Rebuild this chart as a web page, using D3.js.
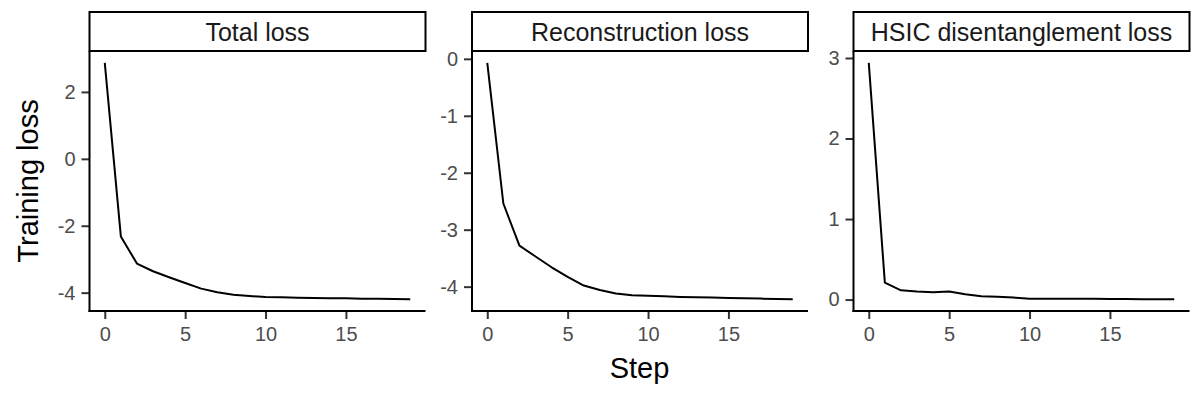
<!DOCTYPE html>
<html>
<head>
<meta charset="utf-8">
<script src="https://cdn.jsdelivr.net/npm/d3@7"></script>
<style>
  body { margin: 0; background: #fff; }
  svg text { font-family: "Liberation Sans", Arial, Helvetica, sans-serif; }
  .axis .tick line { stroke: #333; stroke-width: 2; }
  .axis text { fill: #4d4d4d; font-size: 20px; }
</style>
</head>
<body>
<div id="chart"></div>
<script>
// training curves
var steps = [0, 1, 2, 3, 4, 5, 6, 7, 8, 9, 10, 11, 12, 13, 14, 15, 16, 17, 18, 19];
var totalLoss = [2.87, -2.32, -3.13, -3.36, -3.54, -3.71, -3.88, -3.99, -4.06, -4.10,
                 -4.13, -4.14, -4.15, -4.16, -4.165, -4.17, -4.18, -4.185, -4.19, -4.195];
var reconLoss = [-0.07, -2.54, -3.28, -3.47, -3.66, -3.83, -3.98, -4.06, -4.12, -4.15,
                 -4.16, -4.17, -4.18, -4.185, -4.19, -4.20, -4.205, -4.21, -4.215, -4.22];
var hsicLoss = [2.94, 0.21, 0.115, 0.10, 0.09, 0.10, 0.065, 0.04, 0.035, 0.025,
                0.01, 0.01, 0.01, 0.01, 0.01, 0.008, 0.006, 0.005, 0.005, 0.005];

var panelTitles = ["Total loss", "Reconstruction loss", "HSIC disentanglement loss"];
var xTicks = [0, 5, 10, 15];
var yTicks = [[-4, -2, 0, 2], [-4, -3, -2, -1, 0], [0, 1, 2, 3]];

var panels = [totalLoss, reconLoss, hsicLoss].map(function (v, i) {
  return {title: panelTitles[i], values: v, ticks: yTicks[i]};
});

var _width = 1200, _height = 400;
var _panelLeft = [89.5, 472, 853.5],
    _panelWidth = 336,
    _stripTop = 12, _stripHeight = 39,
    _plotTop = 51, _plotBottom = 311;

var svg = d3.select("#chart").append("svg")
  .attr("width", _width)
  .attr("height", _height);

// ggplot style 5% expansion
function expand(ext) {
  var pad = (ext[1] - ext[0]) * 0.05;
  return [ext[0] - pad, ext[1] + pad];
}

var xDomain = expand(d3.extent(steps));

panels.forEach(function (p, i) {
  var g = svg.append("g")
    .attr("transform", "translate(" + _panelLeft[i] + ",0)");

  var x = d3.scaleLinear().domain(xDomain).range([0, _panelWidth]);
  var y = d3.scaleLinear().domain(expand(d3.extent(p.values))).range([_plotBottom, _plotTop]);

  var line = d3.line()
    .x(function (d, j) { return x(steps[j]); })
    .y(function (d) { return y(d); });

  g.append("path")
    .datum(p.values)
    .attr("fill", "none")
    .attr("stroke", "#000")
    .attr("stroke-width", 2)
    .attr("stroke-linejoin", "round")
    .attr("d", line);

  g.append("g")
    .attr("class", "axis")
    .attr("transform", "translate(0," + _plotBottom + ")")
    .call(d3.axisBottom(x).tickValues(xTicks).tickSize(8).tickPadding(8)
      .tickFormat(function (d) { return String(d); }));

  g.append("g")
    .attr("class", "axis")
    .call(d3.axisLeft(y).tickValues(p.ticks).tickSize(8).tickPadding(6)
      .tickFormat(function (d) { return String(d); }));

  g.selectAll(".axis path.domain").remove();

  // axis lines drawn by hand so they span the full panel
  g.append("line")
    .attr("x1", -1).attr("x2", _panelWidth)
    .attr("y1", _plotBottom).attr("y2", _plotBottom)
    .attr("stroke", "#000").attr("stroke-width", 2);
  g.append("line")
    .attr("x1", 0).attr("x2", 0)
    .attr("y1", _plotTop).attr("y2", _plotBottom + 1)
    .attr("stroke", "#000").attr("stroke-width", 2);

  // facet strip
  g.append("rect")
    .attr("x", 0).attr("y", _stripTop)
    .attr("width", _panelWidth).attr("height", _stripHeight)
    .attr("fill", "#fff")
    .attr("stroke", "#000").attr("stroke-width", 2);

  g.append("text")
    .attr("x", _panelWidth / 2)
    .attr("y", _stripTop + _stripHeight / 2)
    .attr("dy", "0.36em")
    .attr("text-anchor", "middle")
    .attr("fill", "#1a1a1a")
    .style("font-size", "25px")
    .text(p.title);
});

svg.append("text")
  .attr("x", (_panelLeft[0] + _panelLeft[2] + _panelWidth) / 2)
  .attr("y", 378)
  .attr("text-anchor", "middle")
  .style("font-size", "29px")
  .text("Step");

svg.append("text")
  .attr("transform", "translate(38," + (_plotTop + _plotBottom) / 2 + ") rotate(-90)")
  .attr("text-anchor", "middle")
  .style("font-size", "29px")
  .text("Training loss");
</script>
</body>
</html>
